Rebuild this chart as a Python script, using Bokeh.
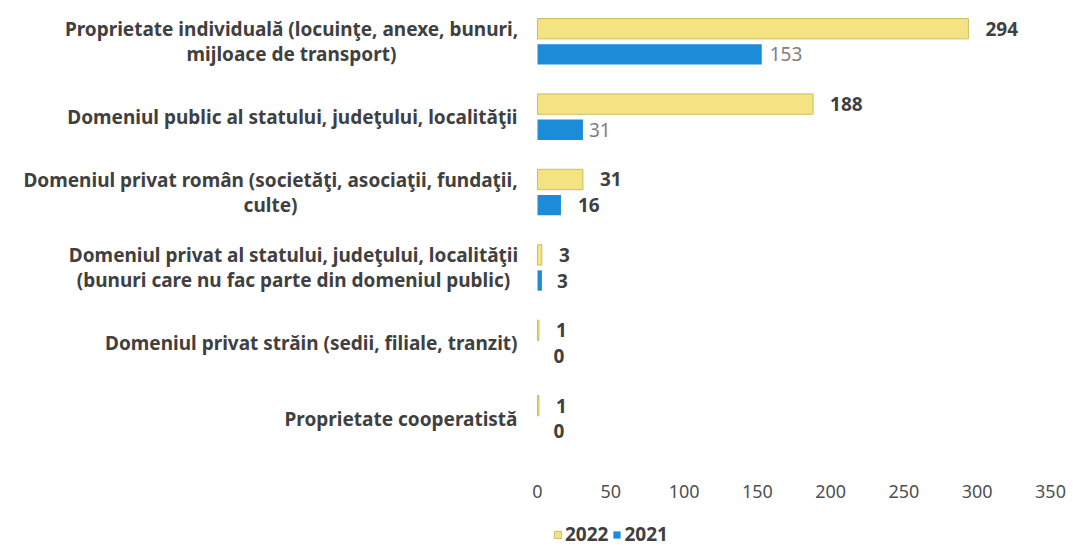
from bokeh.plotting import figure
from bokeh.models import ColumnDataSource, Range1d, FixedTicker, Legend, LegendItem
from bokeh.transform import dodge
from bokeh.core.properties import value
from bokeh.embed import file_html
from bokeh.resources import INLINE

categories = [
    "Proprietate individuală (locuinţe, anexe, bunuri,\nmijloace de transport)",
    "Domeniul public al statului, judeţului, localităţii",
    "Domeniul privat român (societăţi, asociaţii, fundaţii,\nculte)",
    "Domeniul privat al statului, judeţului, localităţii\n(bunuri care nu fac parte din domeniul public)",
    "Domeniul privat străin (sedii, filiale, tranzit)",
    "Proprietate cooperatistă",
]
v2022 = [294, 188, 31, 3, 1, 1]
v2021 = [153, 31, 16, 3, 0, 0]
x_ticks = [0, 50, 100, 150, 200, 250, 300, 350]

FONT = "Noto Sans"
DARK = "#404040"
FS = "19px"
n = len(categories)
ypos = [n - 1 - i for i in range(n)]

# label styles (not data)
lab2021_color = ["#808080", "#808080", DARK, DARK, DARK, DARK]
lab2021_style = ["normal", "normal", "bold", "bold", "bold", "bold"]
lab2021_off = [8, 6, 17, 15, 16, 16]

W, H = 1075, 546
X0_PX, X350_PX = 537, 1050            # pixel positions of x = 0 and x = 350
ppu = (X350_PX - X0_PX) / 350.0
x_start = -X0_PX / ppu                # frame spans the whole canvas so every text sits inside it
x_end = 350 + (W - X350_PX) / ppu

# vertical layout (pixels from top): first / last category centres, axis row
TOP_C, BOT_C, AXIS_PX = 41, 418, 456
ppy = (BOT_C - TOP_C) / (n - 1)
y_end = (n - 1) + TOP_C / ppy
y_start = -(H - BOT_C) / ppy
axis_y = -(AXIS_PX - BOT_C) / ppy

# category text placement: single-line right aligned, two-line blocks centred
right_edge_px = -20
longest_line_px = {0: 452, 2: 494, 3: 448}
cat_x, cat_align = [], []
for i, cat in enumerate(categories):
    if "\n" in cat:
        cat_x.append((right_edge_px - longest_line_px[i] / 2) / ppu)
        cat_align.append("center")
    else:
        cat_x.append(right_edge_px / ppu)
        cat_align.append("right")

src = ColumnDataSource(dict(
    y=ypos, v2022=v2022, v2021=v2021,
    t2022=[str(v) for v in v2022], t2021=[str(v) for v in v2021],
    c2021=lab2021_color, s2021=lab2021_style, o2021=lab2021_off,
    cat=categories, cat_x=cat_x, cat_align=cat_align,
))

p = figure(width=W, height=H, output_backend="svg", toolbar_location=None,
           x_range=Range1d(x_start, x_end), y_range=Range1d(y_start, y_end),
           min_border_left=0, min_border_right=0, min_border_top=0, min_border_bottom=0)
p.outline_line_color = None
p.grid.grid_line_color = None
p.background_fill_color = "white"
p.border_fill_color = "white"

r22 = p.hbar(y=dodge("y", 0.17, range=p.y_range), right="v2022", left=0, height=0.27, source=src,
             fill_color="#F3E383", line_color="#CDBD62", line_width=1)
r21 = p.hbar(y=dodge("y", -0.17, range=p.y_range), right="v2021", left=0, height=0.27, source=src,
             fill_color="#1C8BD8", line_color=None)

p.text(x="v2022", y=dodge("y", 0.17, range=p.y_range), text="t2022", source=src,
       x_offset=17, text_baseline="middle", text_align="left",
       text_font=value(FONT), text_font_style="bold", text_font_size=FS, text_color=DARK)
p.text(x="v2021", y=dodge("y", -0.17, range=p.y_range), text="t2021", source=src,
       x_offset="o2021", text_baseline="middle", text_align="left",
       text_font=value(FONT), text_font_style="s2021", text_font_size=FS, text_color="c2021")

p.text(x="cat_x", y="y", text="cat", source=src, text_align="cat_align", text_baseline="middle",
       text_font=value(FONT), text_font_style="bold", text_font_size=FS, text_color=DARK,
       text_line_height=0.95)

p.yaxis.visible = False

xa = p.xaxis[0]
xa.fixed_location = axis_y
xa.ticker = FixedTicker(ticks=x_ticks)
xa.axis_line_color = None
xa.major_tick_line_color = None
xa.minor_tick_line_color = None
xa.major_label_standoff = 22
xa.major_label_text_font = FONT
xa.major_label_text_font_size = "18px"
xa.major_label_text_color = "#505050"

legend = Legend(items=[LegendItem(label="2022", renderers=[r22]), LegendItem(label="2021", renderers=[r21])],
                orientation="horizontal", location=(X0_PX + 16, -1), padding=0, spacing=4, margin=0,
                glyph_width=9, glyph_height=9, label_standoff=3, border_line_color=None,
                background_fill_alpha=0, label_height=22,
                label_text_font=FONT, label_text_font_style="bold", label_text_font_size=FS,
                label_text_color=DARK)
p.add_layout(legend, "center")

open("out.html", "w").write(file_html(p, INLINE))
